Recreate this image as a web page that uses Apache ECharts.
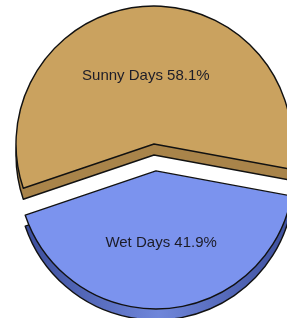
<!DOCTYPE html>
<html>
<head>
<meta charset="utf-8">
<script src="https://cdn.jsdelivr.net/npm/echarts@6/dist/echarts.min.js"></script>
<style>
  html, body { margin: 0; padding: 0; background: #fff; }
  #chart { width: 287px; height: 318px; }
</style>
</head>
<body>
<div id="chart"></div>
<script>
// slice names and shares (%)
const categories = ['Sunny Days', 'Wet Days'];
const values = [58.1, 41.9];
const exploded = [false, true];

const topColors = ['#CAA25F', '#7B93EE'];
// small nudges so the labels sit where the original put them
const labelNudge = [[-3, 4], [-1, -3]];

const myChart = echarts.init(document.getElementById('chart'), null, { renderer: 'canvas' });

const sideColors = [
    '#A9844A',
    new echarts.graphic.LinearGradient(0, 0, 1, 0, [
        { offset: 0, color: '#3C4E9C' },
        { offset: 0.5, color: '#6F86DA' },
        { offset: 1, color: '#3C4E9C' }
    ])
];

function makeData(colors, withLabel) {
    return categories.map((name, i) => ({
        name: name,
        value: values[i],
        selected: exploded[i],
        itemStyle: { color: colors[i] },
        label: { show: withLabel, offset: labelNudge[i] }
    }));
}

const common = {
    type: 'pie',
    radius: 138,
    startAngle: 198.7,
    clockwise: true,
    selectedMode: 'single',
    selectedOffset: 27,
    avoidLabelOverlap: false,
    silent: true,
    labelLine: { show: false },
    emphasis: { disabled: true },
    itemStyle: { borderColor: '#111', borderWidth: 1.4 }
};

const option = {
    animation: false,
    backgroundColor: '#fff',
    series: [
        // side / depth of the 3D pie
        Object.assign({}, common, {
            center: [154, 155],
            label: { show: false },
            data: makeData(sideColors, false)
        }),
        // top face
        Object.assign({}, common, {
            center: [154, 144],
            label: {
                position: 'inside',
                formatter: p => p.name + ' ' + p.value.toFixed(1) + '%',
                color: '#1c1c28',
                fontSize: 15,
                fontFamily: 'Liberation Sans, Arial, sans-serif'
            },
            data: makeData(topColors, true)
        })
    ]
};
myChart.setOption(option);

window.addEventListener('resize', () => {
    setTimeout(() => {
        myChart.resize();
    }, 10);
});
</script>
</body>
</html>
